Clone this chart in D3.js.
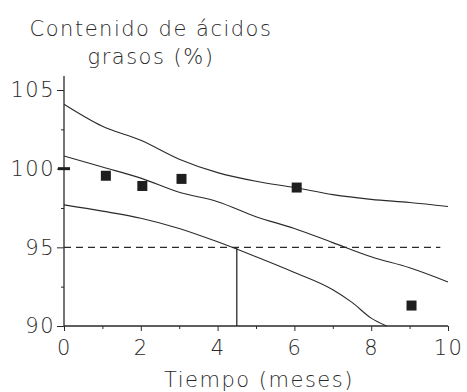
<!DOCTYPE html>
<html><head><meta charset="utf-8">
<script src="https://cdn.jsdelivr.net/npm/d3@7"></script>
<style>body{margin:0;background:#fff}svg{display:block}text{font-family:"DejaVu Sans",sans-serif;fill:#2a2a2a}</style>
</head><body><svg width="467" height="392"></svg>
<script>
const upperBand = [[0,104.1],[1,102.7],[2,101.8],[3,100.6],[4,99.75],[5,99.2],[6,98.8],[7,98.35],[8,98.05],[9,97.85],[10,97.6]];
const fitLine = [[0,100.8],[1,100.1],[2,99.4],[3,98.5],[4,97.9],[5,96.95],[6,96.2],[7,95.3],[8,94.4],[9,93.7],[10,92.8]];
const lowerBand = [[0,97.7],[1,97.3],[2,96.85],[3,96.2],[4,95.35],[5,94.4],[6,93.4],[7,92.3],[7.5,91.5],[8,90.5],[8.4,90.0]];
const observed = [[0,100],[1.09,99.55],[2.04,98.9],[3.06,99.35],[6.06,98.8],[9.05,91.3]];
const limitValue = 95;
const shelfLife = 4.5;
const xTicks = [0,2,4,6,8,10];
const xMinor = [1,3,5,7,9];
const yTicks = [90,95,100,105];
const yMinor = [92.5,97.5,102.5];
const titleLines = ["Contenido de ácidos","grasos (%)"];
const xTitle = "Tiempo (meses)";

const svg = d3.select("svg");
const x = d3.scaleLinear().domain([0,10]).range([64,448]);
const y = d3.scaleLinear().domain([90,105]).range([326,90]);
const ink = "#2a2a2a";
const txt = "#333";

// axes
const yAxis = svg.append("g").attr("transform","translate(64,0)")
  .call(d3.axisLeft(y).tickValues(yTicks).tickSize(7).tickPadding(2).tickFormat(d3.format("d")));
const xAxis = svg.append("g").attr("transform","translate(0,326)")
  .call(d3.axisBottom(x).tickValues(xTicks).tickSize(5).tickPadding(9).tickFormat(d3.format("d")));
[yAxis,xAxis].forEach(g=>{
  g.select(".domain").remove();
  g.selectAll("line").attr("stroke",ink);
  g.selectAll("text").attr("font-size",21).attr("fill",txt).attr("font-weight",200)
    .style("font-family","DejaVu Sans").style("letter-spacing","1.5px");
});
svg.append("g").attr("transform","translate(64,0)").call(d3.axisLeft(y).tickValues(yMinor).tickSize(3).tickFormat(""))
  .call(g=>{g.select(".domain").remove();g.selectAll("line").attr("stroke",ink);});
svg.append("g").attr("transform","translate(0,326)").call(d3.axisBottom(x).tickValues(xMinor).tickSize(3).tickFormat(""))
  .call(g=>{g.select(".domain").remove();g.selectAll("line").attr("stroke",ink);});
svg.append("line").attr("x1",x(0)).attr("x2",x(0)).attr("y1",76).attr("y2",y(90)).attr("stroke",ink).attr("stroke-width",1.3);
svg.append("line").attr("x1",x(0)).attr("x2",x(10)).attr("y1",y(90)).attr("y2",y(90)).attr("stroke",ink).attr("stroke-width",1.3);

// curves
const line = d3.line().x(d=>x(d[0])).y(d=>y(d[1])).curve(d3.curveMonotoneX);
[upperBand,fitLine,lowerBand].forEach(s=>{
  svg.append("path").datum(s).attr("d",line)
    .attr("fill","none").attr("stroke",ink).attr("stroke-width",1.1);
});

// limit dashed line and shelf life
svg.append("line").attr("x1",x(0)).attr("x2",x(9.8)).attr("y1",y(limitValue)).attr("y2",y(limitValue))
  .attr("stroke",ink).attr("stroke-width",1.1).attr("stroke-dasharray","7,5");
svg.append("line").attr("x1",x(shelfLife)).attr("x2",x(shelfLife)).attr("y1",y(limitValue)).attr("y2",y(90))
  .attr("stroke",ink).attr("stroke-width",1.3);

// points
svg.selectAll("rect.pt").data(observed).join("rect").attr("class","pt")
  .attr("x",(d,i)=>x(d[0])-(i===0?6:5)).attr("y",(d,i)=>y(d[1])-(i===0?1.5:5))
  .attr("width",(d,i)=>i===0?12:10).attr("height",(d,i)=>i===0?3:10).attr("fill","#1e1e1e");

// titles
const titleStyle = s => s.attr("text-anchor","middle").attr("font-size",21).attr("font-weight",200)
  .attr("fill",txt).style("letter-spacing","1.5px");
svg.append("text").attr("x",151).attr("y",36).call(titleStyle).text(titleLines[0]);
svg.append("text").attr("x",151).attr("y",64).call(titleStyle).text(titleLines[1]);
svg.append("text").attr("x",259).attr("y",387).call(titleStyle).text(xTitle);
</script></body></html>
